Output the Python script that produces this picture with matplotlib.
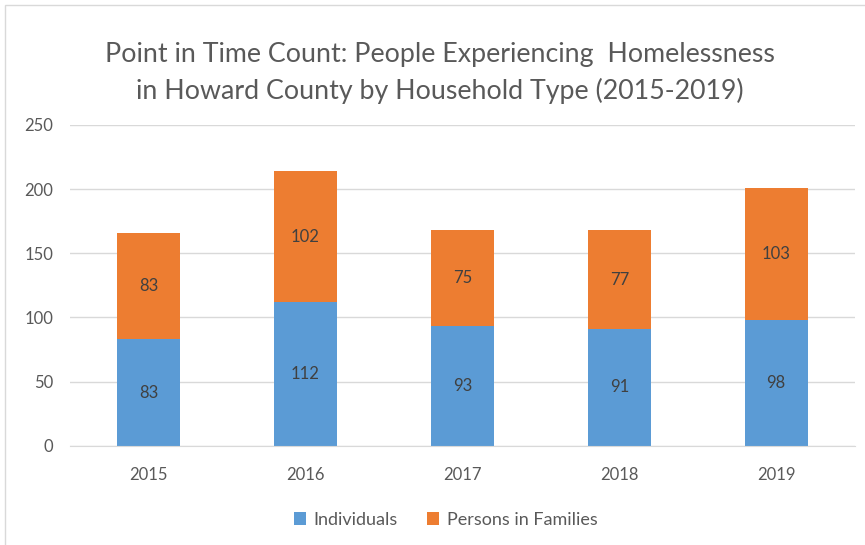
import matplotlib
matplotlib.use("Agg")
import matplotlib.pyplot as plt
from matplotlib.patches import Rectangle

years = ["2015", "2016", "2017", "2018", "2019"]
individuals = [83, 112, 93, 91, 98]
families = [83, 102, 75, 77, 103]

BLUE = "#5B9BD5"
ORANGE = "#ED7D31"
TXT = "#595959"

plt.rcParams["font.family"] = ["Lato", "DejaVu Sans"]

fig = plt.figure(figsize=(8.65, 5.45), dpi=100)
ax = fig.add_axes([0.081, 0.182, 0.907, 0.589])

x = range(len(years))
ax.bar(x, individuals, width=0.4, color=BLUE, label="Individuals", zorder=2)
ax.bar(x, families, width=0.4, bottom=individuals, color=ORANGE,
       label="Persons in Families", zorder=2)

for i in x:
    ax.text(i, individuals[i] / 2, str(individuals[i]), ha="center",
            va="center", fontsize=12, color="#404040")
    ax.text(i, individuals[i] + families[i] / 2, str(families[i]),
            ha="center", va="center", fontsize=12, color="#404040")

ax.set_xlim(-0.5, 4.5)
ax.set_ylim(0, 250)
ax.set_yticks(range(0, 251, 50))
ax.set_xticks(list(x))
ax.set_xticklabels(years)
ax.yaxis.grid(True, color="#D9D9D9", lw=1, zorder=0)
ax.set_axisbelow(True)
for s in ["top", "right", "left"]:
    ax.spines[s].set_visible(False)
ax.spines["bottom"].set_color("#D9D9D9")
ax.tick_params(axis="both", length=0, labelsize=12, colors=TXT)
ax.tick_params(axis="x", pad=15)
ax.tick_params(axis="y", pad=12)

fig.text(0.509, 0.866,
         "Point in Time Count: People Experiencing  Homelessness\n"
         "in Howard County by Household Type (2015-2019)",
         ha="center", va="center", fontsize=19.3, color=TXT, linespacing=1.5)

leg = fig.legend(loc="center", bbox_to_anchor=(0.515, 0.046), ncol=2,
                 frameon=False, fontsize=13, handlelength=0.7,
                 handleheight=0.7, columnspacing=1.6, handletextpad=0.4)
for t in leg.get_texts():
    t.set_color(TXT)

# light chart-area border
fig.patches.append(Rectangle((0.006, -0.01), 1.1, 1.0, transform=fig.transFigure,
                             fill=False, edgecolor="#D9D9D9", lw=1))

fig.savefig("out.png", dpi=100)
